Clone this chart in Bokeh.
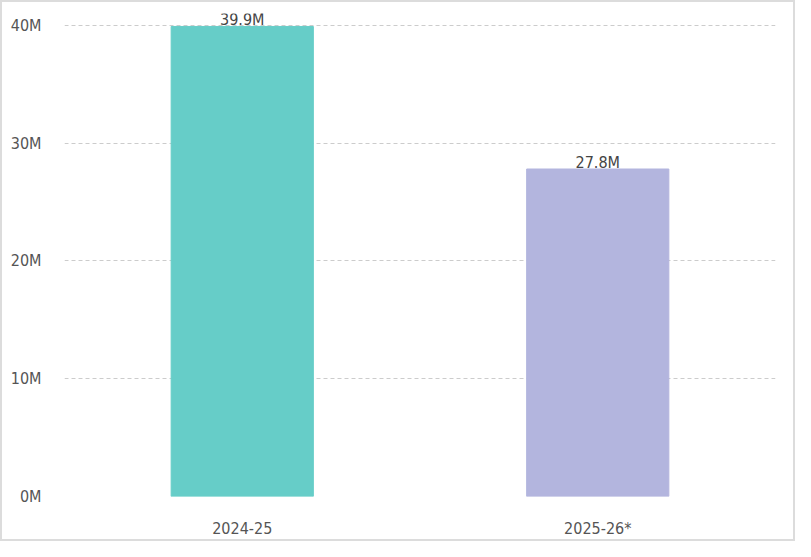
from bokeh.core.properties import value
from bokeh.embed import file_html
from bokeh.models import ColumnDataSource, FixedTicker, PrintfTickFormatter, Range1d
from bokeh.plotting import figure
from bokeh.resources import INLINE

seasons = ["2024-25", "2025-26*"]
totals = [39.9, 27.8]  # millions
labels = ["39.9M", "27.8M"]
colors = ["#66cdc8", "#b3b5de"]
y_ticks = [0, 10, 20, 30, 40]

source = ColumnDataSource(data=dict(season=seasons, total=totals,
                                    label=labels, color=colors))

p = figure(x_range=seasons, y_range=Range1d(0, 41),
           width=795, height=541,
           output_backend="svg", toolbar_location=None,
           min_border_left=62, min_border_right=22,
           min_border_top=11, min_border_bottom=47)
p.styles = {"border": "2px solid #dcdcdc", "box-sizing": "border-box"}
p.outline_line_color = None
p.x_range.range_padding = 0

p.vbar(x="season", top="total", width=0.4, color="color", source=source)
p.text(x="season", y="total", text="label", source=source,
       text_align="center", text_baseline="bottom", y_offset=3,
       text_font=value("DejaVu Sans Condensed"), text_font_size="16px",
       text_color="#444444")

p.yaxis.ticker = FixedTicker(ticks=y_ticks)
p.yaxis.formatter = PrintfTickFormatter(format="%dM")
for ax in (p.xaxis, p.yaxis):
    ax.axis_line_color = None
    ax.major_tick_line_color = None
    ax.minor_tick_line_color = None
    ax.major_label_text_font = "DejaVu Sans Condensed"
    ax.major_label_text_font_size = "16px"
    ax.major_label_text_color = "#555555"
p.yaxis.major_label_standoff = 17
p.xaxis.major_label_standoff = 16

p.xgrid.grid_line_color = None
p.ygrid.grid_line_color = "#cccccc"
p.ygrid.grid_line_dash = "4 3"
p.ygrid.ticker = FixedTicker(ticks=y_ticks)

open("out.html", "w").write(file_html(p, INLINE))
